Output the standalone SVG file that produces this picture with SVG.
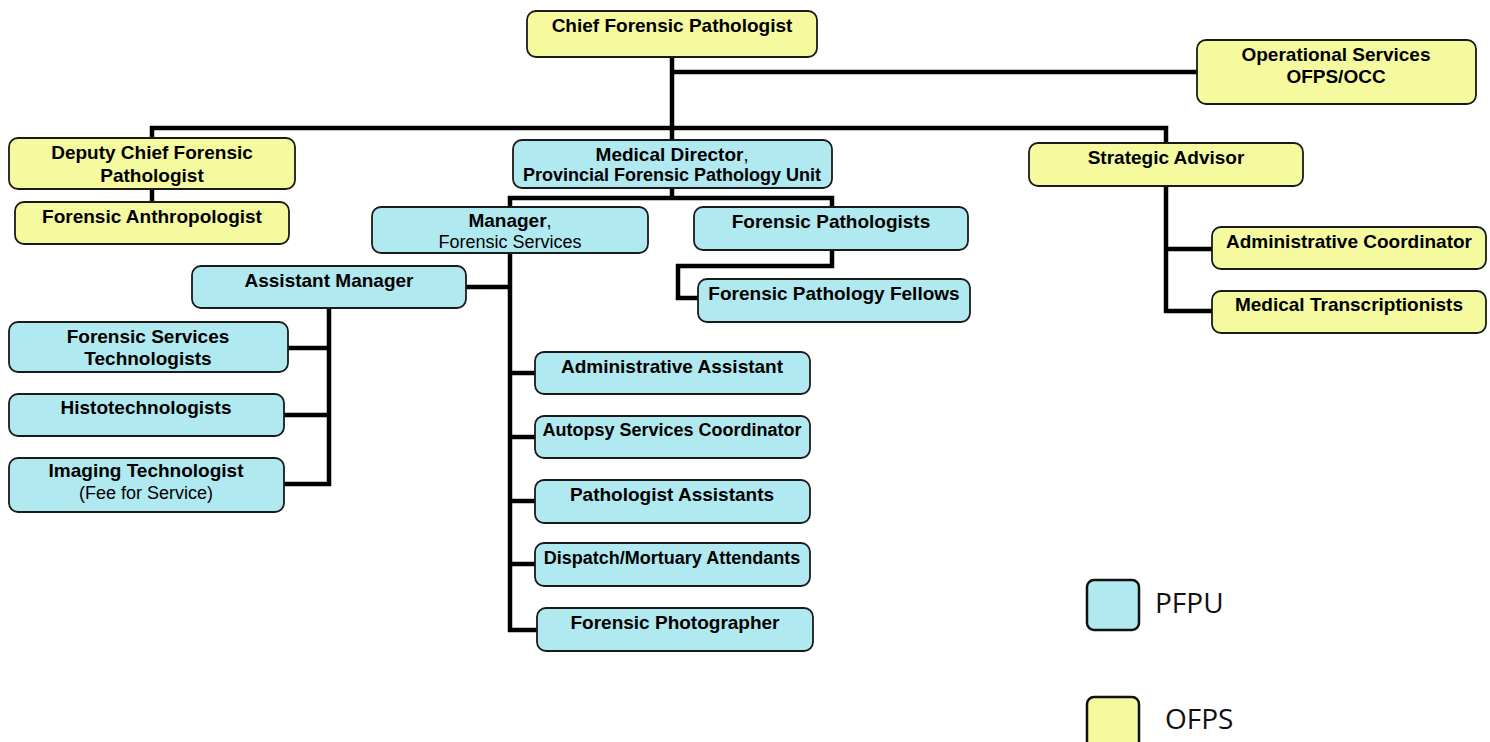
<svg xmlns="http://www.w3.org/2000/svg" width="1490" height="742" viewBox="0 0 1490 742">
<style>
.box{stroke:#1a1a1a;stroke-width:1.8}
.y{fill:#f6fa9e}
.b{fill:#b0e9f0}
text{font-family:"Liberation Sans",Arial,sans-serif;font-size:19px;fill:#000;text-anchor:middle}
.t{font-weight:bold}
.s18{font-size:18px}
.n{font-weight:normal;font-size:18px}
.leg{font-family:"Open Sans","Noto Sans",sans-serif;font-size:28px;text-anchor:start;fill:#111}
.c{fill:none;stroke:#000;stroke-width:4.5;stroke-linejoin:miter}
</style>
<rect width="1490" height="742" fill="#fff"/>
<g id="connectors">
<path class="c" d="M672,57 V140"/>
<path class="c" d="M672,72 H1197"/>
<path class="c" d="M152,138 V128 H1166 V143"/>
<path class="c" d="M152,189 V202"/>
<path class="c" d="M672,188 V198"/>
<path class="c" d="M510,207 V198 H832 V207"/>
<path class="c" d="M1166,186 V311 H1212"/>
<path class="c" d="M1166,249 H1212"/>
<path class="c" d="M832,250 V266 H678 V298 H698"/>
<path class="c" d="M510,253 V630 H537"/>
<path class="c" d="M510,287 H466"/>
<path class="c" d="M510,373 H535"/>
<path class="c" d="M510,437 H535"/>
<path class="c" d="M510,501 H535"/>
<path class="c" d="M510,564 H535"/>
<path class="c" d="M329,308 V484 H284"/>
<path class="c" d="M329,348 H288"/>
<path class="c" d="M329,415 H284"/>
</g>
<g id="chief"><rect class="box y" x="527" y="11" width="290" height="46" rx="9"/><text class="t" x="672" y="32">Chief Forensic Pathologist</text></g>
<g id="ops"><rect class="box y" x="1197" y="40" width="279" height="64" rx="9"/><text class="t" x="1336" y="61">Operational Services</text><text class="t" x="1336" y="83">OFPS/OCC</text></g>
<g id="deputy"><rect class="box y" x="9" y="138" width="286" height="51" rx="9"/><text class="t" x="152" y="159">Deputy Chief Forensic</text><text class="t" x="152" y="182">Pathologist</text></g>
<g id="anthro"><rect class="box y" x="15" y="202" width="274" height="42" rx="9"/><text class="t" x="152" y="223">Forensic Anthropologist</text></g>
<g id="meddir"><rect class="box b" x="513" y="140" width="319" height="48" rx="9"/><text x="672" y="161"><tspan class="t">Medical Director</tspan><tspan class="n">,</tspan></text><text class="t s18" x="672" y="181">Provincial Forensic Pathology Unit</text></g>
<g id="strat"><rect class="box y" x="1029" y="143" width="274" height="43" rx="9"/><text class="t" x="1166" y="164">Strategic Advisor</text></g>
<g id="admincoord"><rect class="box y" x="1212" y="227" width="274" height="42" rx="9"/><text class="t" x="1349" y="248">Administrative Coordinator</text></g>
<g id="medtrans"><rect class="box y" x="1212" y="291" width="274" height="42" rx="9"/><text class="t" x="1349" y="311">Medical Transcriptionists</text></g>
<g id="manager"><rect class="box b" x="372" y="207" width="276" height="46" rx="9"/><text x="510" y="227"><tspan class="t">Manager</tspan><tspan class="n">,</tspan></text><text class="n" x="510" y="248">Forensic Services</text></g>
<g id="forpath"><rect class="box b" x="694" y="207" width="274" height="43" rx="9"/><text class="t" x="831" y="228">Forensic Pathologists</text></g>
<g id="fellows"><rect class="box b" x="698" y="279" width="272" height="43" rx="9"/><text class="t" x="834" y="300">Forensic Pathology Fellows</text></g>
<g id="asstmgr"><rect class="box b" x="192" y="266" width="274" height="42" rx="9"/><text class="t" x="329" y="287">Assistant Manager</text></g>
<g id="fst"><rect class="box b" x="9" y="322" width="279" height="50" rx="9"/><text class="t" x="148" y="343">Forensic Services</text><text class="t" x="148" y="365">Technologists</text></g>
<g id="histo"><rect class="box b" x="9" y="394" width="275" height="42" rx="9"/><text class="t" x="146" y="414">Histotechnologists</text></g>
<g id="imaging"><rect class="box b" x="9" y="458" width="275" height="54" rx="9"/><text class="t" x="146" y="477">Imaging Technologist</text><text class="n" x="146" y="499">(Fee for Service)</text></g>
<g id="adminasst"><rect class="box b" x="535" y="352" width="275" height="42" rx="9"/><text class="t" x="672" y="373">Administrative Assistant</text></g>
<g id="autopsy"><rect class="box b" x="535" y="416" width="275" height="42" rx="9"/><text class="t s18" x="672" y="436">Autopsy Services Coordinator</text></g>
<g id="pathasst"><rect class="box b" x="535" y="480" width="275" height="43" rx="9"/><text class="t" x="672" y="501">Pathologist Assistants</text></g>
<g id="dispatch"><rect class="box b" x="535" y="543" width="275" height="43" rx="9"/><text class="t s18" x="672" y="564">Dispatch/Mortuary Attendants</text></g>
<g id="photo"><rect class="box b" x="537" y="608" width="276" height="43" rx="9"/><text class="t" x="675" y="629">Forensic Photographer</text></g>
<g id="legend-pfpu"><rect x="1087" y="580" width="52" height="50" rx="7" fill="#b0e9f0" stroke="#111" stroke-width="2.5"/><text class="leg" x="1155" y="613">PFPU</text></g>
<g id="legend-ofps"><rect x="1087" y="697" width="52" height="60" rx="7" fill="#f6fa9e" stroke="#111" stroke-width="2.5"/><text class="leg" x="1165" y="729">OFPS</text></g>
</svg>
